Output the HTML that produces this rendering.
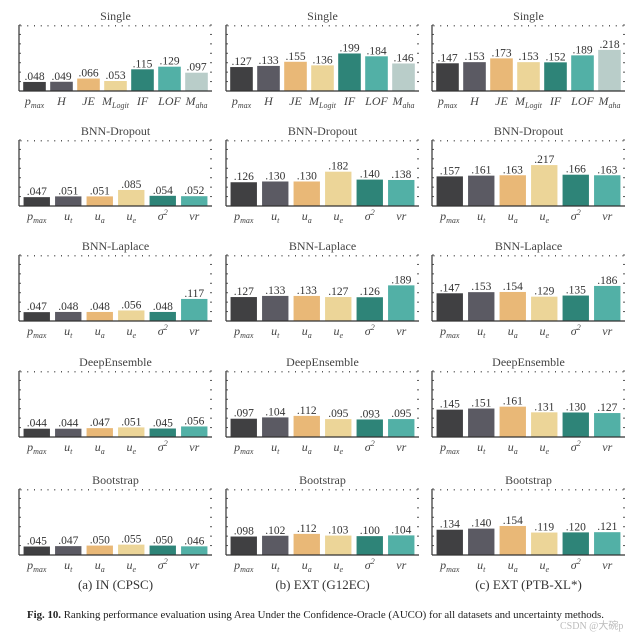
<!DOCTYPE html>
<html><head><meta charset="utf-8"><style>
body{margin:0;background:#fff;width:641px;height:633px;overflow:hidden}
svg text{font-family:"Liberation Serif",serif}
</style></head><body>
<svg id="c" width="641" height="633"></svg>
<script>
const colTitles=["(a) IN (CPSC)","(b) EXT (G12EC)","(c) EXT (PTB-XL*)"];
const rowTitles=["Single","BNN-Dropout","BNN-Laplace","DeepEnsemble","Bootstrap"];
const singleCats=[["p","max"],["H",""],["JE",""],["M","Logit"],["IF",""],["LOF",""],["M","aha"]];
const ensCats=[["p","max"],["u","t"],["u","a"],["u","e"],["σ","2"],["vr",""]];
const singleVals=[[.048,.049,.066,.053,.115,.129,.097],[.127,.133,.155,.136,.199,.184,.146],[.147,.153,.173,.153,.152,.189,.218]];
const dropoutVals=[[.047,.051,.051,.085,.054,.052],[.126,.130,.130,.182,.140,.138],[.157,.161,.163,.217,.166,.163]];
const laplaceVals=[[.047,.048,.048,.056,.048,.117],[.127,.133,.133,.127,.126,.189],[.147,.153,.154,.129,.135,.186]];
const ensembleVals=[[.044,.044,.047,.051,.045,.056],[.097,.104,.112,.095,.093,.095],[.145,.151,.161,.131,.130,.127]];
const bootstrapVals=[[.045,.047,.050,.055,.050,.046],[.098,.102,.112,.103,.100,.104],[.134,.140,.154,.119,.120,.121]];
const yMax=0.35, yTicks=[0,0.05,0.1,0.15,0.2,0.25,0.3,0.35];
const singleColors=["#404042","#5b5a63","#e9b877","#ecd598","#2e8478","#52b0a6","#b9cdc9"];
const ensColors=["#404042","#5b5a63","#e9b877","#ecd598","#2e8478","#52b0a6"];
const rows=[singleVals,dropoutVals,laplaceVals,ensembleVals,bootstrapVals];
const svg=document.getElementById('c');const NS="http://www.w3.org/2000/svg";
function el(t,a,p){const e=document.createElementNS(NS,t);for(const k in a)e.setAttribute(k,a[k]);(p||svg).appendChild(e);return e;}
const colX=[19,226,432], axW=193, axH=66, rowY=[25,140,255,371,489];
for(let r=0;r<5;r++){for(let c=0;c<3;c++){
 const g=el('g',{});
 
 
 const x0=colX[c],y0=rowY[r],yb=y0+axH;
 const vals=rows[r][c], cats=r==0?singleCats:ensCats, cols=r==0?singleColors:ensColors;
 const ys=v=>yb-v/yMax*axH;
 const t=el('text',{x:x0+axW/2,y:y0-5,'text-anchor':'middle','font-size':12,fill:'#444'},g);t.textContent=rowTitles[r];
 
 const n=vals.length, step=axW/n;
 for(let i=0;i<=28;i++){const tx=x0+2+i*(axW-4)/28;el('line',{x1:tx,x2:tx,y1:y0,y2:y0+1.5,stroke:'#555','stroke-width':1},g);}
 yTicks.forEach(v=>{const ty=ys(v);el('line',{x1:x0,x2:x0+2,y1:ty,y2:ty,stroke:'#555'},g);el('line',{x1:x0+axW-2,x2:x0+axW,y1:ty,y2:ty,stroke:'#555'},g);});
 vals.forEach((v,i)=>{
  const bw=step*0.82, bx=x0+2+i*((axW-4)/n)+((axW-4)/n-bw)/2;
  const b=el('rect',{x:bx,y:ys(v),width:bw,height:yb-ys(v),fill:cols[i]},g);
  
  const l=el('text',{x:bx+bw/2,y:ys(v)-2,'text-anchor':'middle','font-size':11.5,fill:'#333'},g);l.textContent=String(v.toFixed(3)).replace(/^0/,'');
  
  const cl=el('text',{x:bx+bw/2,y:yb+14,'text-anchor':'middle','font-size':12,'font-style':'italic',fill:'#444'},g);
  
  cl.textContent=cats[i][0];
  if(cats[i][1]){const s=el('tspan',{'font-size':8,dy:cats[i][1]=='2'?-5:3},cl);s.textContent=cats[i][1];}
 });
 el('line',{x1:x0,x2:x0,y1:y0,y2:yb,stroke:'#333','stroke-width':1.2},g);
 el('line',{x1:x0,x2:x0+axW,y1:yb,y2:yb,stroke:'#333','stroke-width':1.2},g);
}}
colTitles.forEach((s,c)=>{const t=el('text',{x:colX[c]+axW/2,y:589,'text-anchor':'middle','font-size':13,fill:'#333'});t.textContent=s;
 });
const cap=el('text',{x:27,y:618,'font-size':10.5,fill:'#222',textLength:577,lengthAdjust:'spacingAndGlyphs'});

const b=el('tspan',{'font-weight':'bold'},cap);b.textContent="Fig. 10.";
const rest=el('tspan',{},cap);rest.textContent="  Ranking performance evaluation using Area Under the Confidence-Oracle (AUCO) for all datasets and uncertainty methods.";
const wm=el('text',{x:560,y:629,'font-size':10,fill:'#bbb','font-family':'Liberation Sans'});wm.textContent="CSDN @大碗p";

</script>
</body></html>
